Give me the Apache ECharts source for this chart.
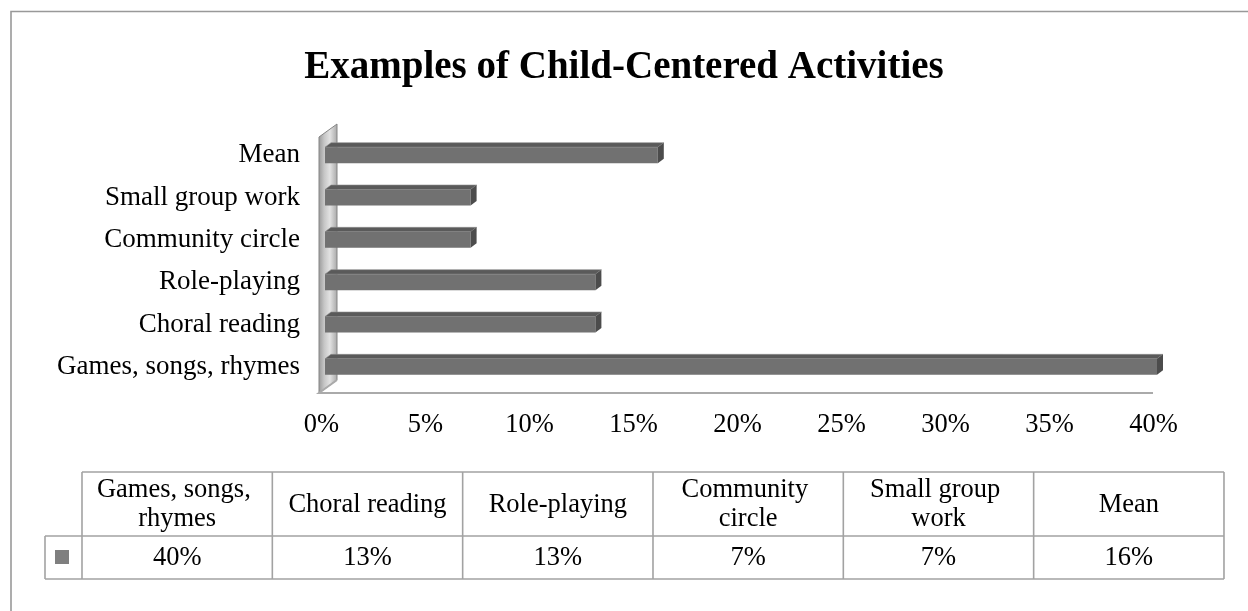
<!DOCTYPE html>
<html>
<head>
<meta charset="utf-8">
<script src="https://cdn.jsdelivr.net/npm/echarts@6/dist/echarts.min.js"></script>
<style>
  html, body { margin: 0; padding: 0; background: #fff; }
  #chart { width: 1248px; height: 611px; }
</style>
</head>
<body>
<div id="chart"></div>
<script>
// Activity names, bottom to top on the bar axis and left to right in the table
const categories = ['Games, songs, rhymes', 'Choral reading', 'Role-playing', 'Community circle', 'Small group work', 'Mean'];
// Share of responses per activity
const shares = [0.40, 0.13, 0.13, 0.07, 0.07, 0.16];
// Value axis range and step
const axisMin = 0;
const axisMax = 0.40;
const axisStep = 0.05;

const SERIF = '"Liberation Serif", "Times New Roman", serif';
const pct = v => Math.round(v * 100) + '%';

const chart = echarts.init(document.getElementById('chart'), null, { renderer: 'canvas' });

// Side wall and floor of the 3-D plot box
function renderWall(params, api) {
  const cs = params.coordSys;
  const x0 = cs.x, yt = cs.y, yb = cs.y + cs.height;
  const dx = 18, dy = -13;
  const fx = x0 - 6;
  return {
    type: 'group',
    children: [
      {
        type: 'polygon',
        shape: { points: [[fx, yb + 5], [fx, yt + 3], [fx + dx, yt + 3 + dy], [fx + dx, yb + 5 + dy]] },
        style: {
          fill: new echarts.graphic.LinearGradient(0, 0, 1, 0, [
            { offset: 0, color: '#989898' },
            { offset: 0.3, color: '#c6c6c6' },
            { offset: 0.6, color: '#e2e2e2' },
            { offset: 1, color: '#a6a6a6' }
          ]),
          stroke: '#858585', lineWidth: 1
        }
      },
      {
        type: 'polyline',
        shape: { points: [[fx + dx, yb + 5 + dy], [fx, yb + 5], [x0 + cs.width - 4, yb + 5]] },
        style: { stroke: '#aaaaaa', lineWidth: 2, fill: null }
      }
    ]
  };
}

// Bars with a front face, a top face and a right side face
function renderBar(params, api) {
  const idx = api.value(1);
  const end = api.coord([api.value(0), idx]);
  const start = api.coord([0, idx]);
  const xs = start[0], xe = end[0], yc = end[1];
  const h = 16, dx = 6, dy = -4.5;
  const yTop = yc - h / 2, yBot = yc + h / 2;
  return {
    type: 'group',
    children: [
      {
        type: 'polygon',
        shape: { points: [[xs, yTop], [xs + dx, yTop + dy], [xe + dx, yTop + dy], [xe, yTop]] },
        style: { fill: '#5a5a5a', stroke: '#8e8e8e', lineWidth: 0.6 }
      },
      {
        type: 'rect',
        shape: { x: xs, y: yTop, width: xe - xs, height: h },
        style: { fill: '#717171' }
      },
      {
        type: 'polygon',
        shape: { points: [[xe, yTop], [xe + dx, yTop + dy], [xe + dx, yBot + dy], [xe, yBot]] },
        style: { fill: '#4c4c4c' }
      }
    ]
  };
}

// Data table beneath the plot
const TBL = { keyLeft: 45, left: 82, colW: 190.33, top: 472, headH: 64, rowH: 43 };
function buildTable() {
  const els = [];
  const line = '#a2a2a2';
  const right = TBL.left + TBL.colW * categories.length;
  const yMid = TBL.top + TBL.headH;
  const yBot = yMid + TBL.rowH;
  const seg = (x1, y1, x2, y2) => els.push({
    type: 'line', shape: { x1, y1, x2, y2 }, style: { stroke: line, lineWidth: 1.6 }, silent: true
  });
  seg(TBL.left, TBL.top, right, TBL.top);
  seg(TBL.keyLeft, yMid, right, yMid);
  seg(TBL.keyLeft, yBot, right, yBot);
  seg(TBL.keyLeft, yMid, TBL.keyLeft, yBot);
  for (let i = 0; i <= categories.length; i++) {
    const x = TBL.left + i * TBL.colW;
    seg(x, TBL.top, x, yBot);
  }
  // legend key
  els.push({
    type: 'rect', shape: { x: 55, y: 550, width: 14, height: 14 }, style: { fill: '#7f7f7f' }
  });
  categories.forEach((name, i) => {
    const cx = TBL.left + (i + 0.5) * TBL.colW;
    els.push({
      type: 'text', x: cx, y: TBL.top + TBL.headH / 2 + 1,
      style: {
        text: name, fill: '#000', fontFamily: SERIF, fontSize: 26.5,
        align: 'center', verticalAlign: 'middle',
        width: TBL.colW - 16, overflow: 'break', lineHeight: 29
      }
    });
    els.push({
      type: 'text', x: cx, y: yMid + TBL.rowH / 2 + 1,
      style: {
        text: pct(shares[i]), fill: '#000', fontFamily: SERIF, fontSize: 26.5,
        align: 'center', verticalAlign: 'middle'
      }
    });
  });
  return els;
}

const option = {
  backgroundColor: '#fff',
  animation: false,
  title: {
    text: 'Examples of Child-Centered Activities',
    left: 'center',
    top: 43,
    textStyle: { fontFamily: SERIF, fontWeight: 'bold', fontSize: 39, color: '#000' }
  },
  grid: { left: 325, right: 91, top: 134, bottom: 223, containLabel: false },
  xAxis: {
    type: 'value',
    min: axisMin, max: axisMax, interval: axisStep,
    axisLine: { show: false }, axisTick: { show: false }, splitLine: { show: false },
    axisLabel: {
      formatter: v => pct(v), margin: 24, color: '#000',
      fontFamily: SERIF, fontSize: 26.5, padding: [0, 7, 0, 0]
    }
  },
  yAxis: {
    type: 'category',
    data: categories,
    axisLine: { show: false }, axisTick: { show: false }, splitLine: { show: false },
    axisLabel: { margin: 25, color: '#000', fontFamily: SERIF, fontSize: 27 }
  },
  series: [
    {
      type: 'custom', name: 'wall', z: 1,
      renderItem: renderWall, data: [[0, 0]], encode: { x: 0, y: 1 }, silent: true
    },
    {
      type: 'custom', name: 'Share', z: 2,
      renderItem: renderBar,
      data: shares.map((v, i) => [v, i]),
      encode: { x: 0, y: 1 }
    }
  ],
  graphic: [
    {
      type: 'polyline', silent: true,
      shape: { points: [[11, 611], [11, 11.5], [1248, 11.5]] },
      style: { stroke: '#999', lineWidth: 1.6, fill: null }
    }
  ].concat(buildTable())
};

chart.setOption(option);
</script>
</body>
</html>
